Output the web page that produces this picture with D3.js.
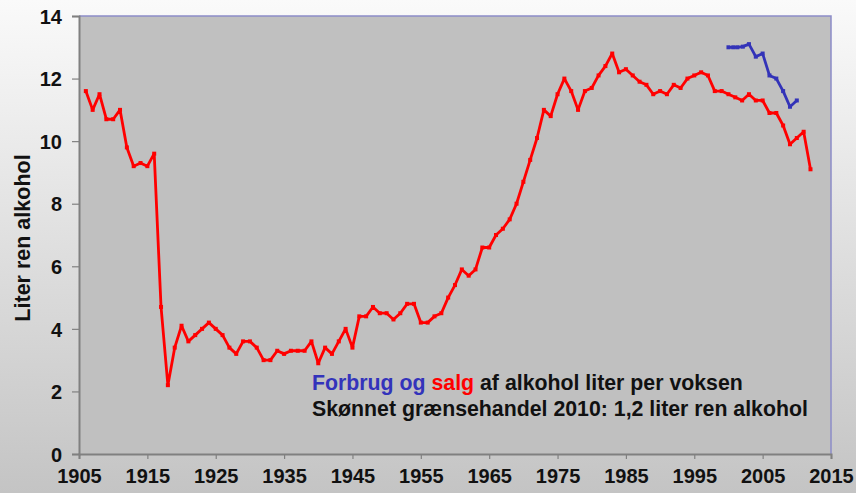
<!DOCTYPE html>
<html>
<head>
<meta charset="utf-8">
<script src="https://cdn.jsdelivr.net/npm/d3@7"></script>
<style>
  body { margin: 0; }
  svg { display: block; font-family: "Liberation Sans", Arial, sans-serif; }
</style>
</head>
<body>
<svg id="chart"></svg>
<script>
// sales per adult (red), 1906-2012
const salesYears = d3.range(1906, 2013);
const salesValues = [
  11.6, 11.0, 11.5, 10.7, 10.7, 11.0, 9.8, 9.2, 9.3, 9.2,
  9.6, 4.7, 2.2, 3.4, 4.1, 3.6, 3.8, 4.0, 4.2, 4.0,
  3.8, 3.4, 3.2, 3.6, 3.6, 3.4, 3.0, 3.0, 3.3, 3.2,
  3.3, 3.3, 3.3, 3.6, 2.9, 3.4, 3.2, 3.6, 4.0, 3.4,
  4.4, 4.4, 4.7, 4.5, 4.5, 4.3, 4.5, 4.8, 4.8, 4.2,
  4.2, 4.4, 4.5, 5.0, 5.4, 5.9, 5.7, 5.9, 6.6, 6.6,
  7.0, 7.2, 7.5, 8.0, 8.7, 9.4, 10.1, 11.0, 10.8, 11.5,
  12.0, 11.6, 11.0, 11.6, 11.7, 12.1, 12.4, 12.8, 12.2, 12.3,
  12.1, 11.9, 11.8, 11.5, 11.6, 11.5, 11.8, 11.7, 12.0, 12.1,
  12.2, 12.1, 11.6, 11.6, 11.5, 11.4, 11.3, 11.5, 11.3, 11.3,
  10.9, 10.9, 10.5, 9.9, 10.1, 10.3, 9.1
];

// consumption (blue)
const consYears = [2000, 2000.7, 2001.3, 2002.1, 2003, 2004, 2005, 2006, 2007, 2008, 2009, 2010];
const consValues = [13.0, 13.0, 13.0, 13.02, 13.1, 12.7, 12.8, 12.1, 12.0, 11.6, 11.1, 11.3];

const xTicks = d3.range(1905, 2016, 10);
const yTicks = d3.range(0, 15, 2);

const width = 856, height = 493;
const margin = {top: 16, right: 25, bottom: 39, left: 79};
const innerW = width - margin.left - margin.right;
const innerH = height - margin.top - margin.bottom;

const svg = d3.select('#chart')
    .attr('width', width)
    .attr('height', height);

// background gradient
const defs = svg.append('defs');
const grad = defs.append('linearGradient')
    .attr('id', 'bg')
    .attr('x1', 0).attr('y1', 0).attr('x2', 0).attr('y2', 1);
grad.append('stop').attr('offset', '0%').attr('stop-color', '#fafafa');
grad.append('stop').attr('offset', '100%').attr('stop-color', '#c4c4c4');

svg.append('rect')
    .attr('width', width)
    .attr('height', height)
    .attr('fill', 'url(#bg)');

const chart = svg.append('g')
    .attr('transform', `translate(${margin.left},${margin.top})`);

const xScale = d3.scaleLinear().domain([1905, 2015]).range([0, innerW]);
const yScale = d3.scaleLinear().domain([0, 14]).range([innerH, 0]);

// plot area
chart.append('rect')
    .attr('width', innerW)
    .attr('height', innerH)
    .attr('fill', '#c0c0c0');

// top + right frame
chart.append('path')
    .attr('d', `M0,0H${innerW}V${innerH}`)
    .attr('fill', 'none')
    .attr('stroke', '#8c8cc8')
    .attr('stroke-width', 1.5);

// axes
const xAxis = d3.axisBottom(xScale)
    .tickValues(xTicks)
    .tickFormat(d3.format('d'))
    .tickSize(5)
    .tickPadding(10);

const yAxis = d3.axisLeft(yScale)
    .tickValues(yTicks)
    .tickSize(7)
    .tickPadding(10);

const xAxisG = chart.append('g')
    .attr('transform', `translate(0,${innerH})`)
    .call(xAxis);

const yAxisG = chart.append('g')
    .call(yAxis);

[xAxisG, yAxisG].forEach(g => {
    g.select('.domain').attr('stroke', '#808080').attr('stroke-width', 2);
    g.selectAll('.tick line').attr('stroke', '#808080').attr('stroke-width', 1.2);
    g.selectAll('.tick text')
        .attr('fill', '#111')
        .style('font-family', '"Liberation Sans", Arial, sans-serif')
        .style('font-weight', 'bold')
        .style('font-size', '20px');
});
yAxisG.selectAll('.tick text').attr('dy', '0.36em');

// y axis title
svg.append('text')
    .attr('transform', `translate(30,${238}) rotate(-90)`)
    .attr('text-anchor', 'middle')
    .style('font-weight', 'bold')
    .style('font-size', '21.5px')
    .attr('fill', '#111')
    .text('Liter ren alkohol');

// series
const sales = salesYears.map((y, i) => ({year: y, value: salesValues[i]}));
const cons = consYears.map((y, i) => ({year: y, value: consValues[i]}));

const line = d3.line()
    .x(d => xScale(d.year))
    .y(d => yScale(d.value));

function drawSeries(data, color, cls) {
    chart.append('path')
        .datum(data)
        .attr('fill', 'none')
        .attr('stroke', color)
        .attr('stroke-width', 2.8)
        .attr('stroke-linejoin', 'round')
        .attr('d', line);

    chart.selectAll('.' + cls)
        .data(data)
        .join('rect')
            .attr('class', cls)
            .attr('x', d => xScale(d.year) - 2)
            .attr('y', d => yScale(d.value) - 2)
            .attr('width', 4)
            .attr('height', 4)
            .attr('fill', color);
}

drawSeries(sales, '#ff0000', 'sales-pt');
drawSeries(cons, '#3333b8', 'cons-pt');

// annotation
const note = svg.append('text')
    .attr('x', 312)
    .attr('y', 390)
    .style('font-weight', 'bold')
    .style('font-size', '21.3px')
    .attr('fill', '#111');
note.append('tspan').attr('fill', '#3333bb').text('Forbrug og ');
note.append('tspan').attr('fill', '#ff0000').text('salg');
note.append('tspan').text(' af alkohol liter per voksen');

svg.append('text')
    .attr('x', 312)
    .attr('y', 416)
    .style('font-weight', 'bold')
    .style('font-size', '21.3px')
    .attr('fill', '#111')
    .text('Skønnet grænsehandel 2010: 1,2 liter ren alkohol');
</script>
</body>
</html>
